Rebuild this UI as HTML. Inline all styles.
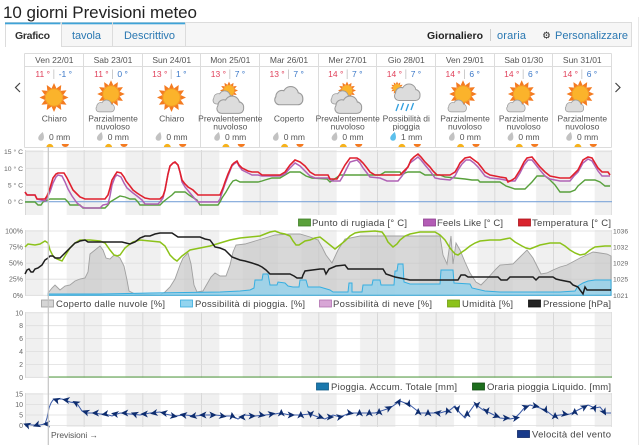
<!DOCTYPE html>
<html><head><meta charset="utf-8">
<style>
html,body{margin:0;padding:0;background:#fff;overflow:hidden;}
svg{display:block;}
</style></head>
<body>
<svg width="640" height="445" viewBox="0 0 640 445" xmlns="http://www.w3.org/2000/svg" font-family="'Liberation Sans', sans-serif">
<defs>
<pattern id="st" patternUnits="userSpaceOnUse" x="25" y="0" width="58.667" height="445">
<rect width="58.667" height="445" fill="#fff"/>
<rect x="0" width="18.3" height="445" fill="#f0f0f0"/>
<rect x="41.7" width="17" height="445" fill="#f0f0f0"/>
<rect x="0" width="0.9" height="445" fill="#d6d6d6"/>
</pattern>
<g id="sun">
<g fill="#f47b20">
<polygon points="-2.6,-8.8 2.6,-8.8 0,-14.5"/>
<polygon points="-2.6,-8.8 2.6,-8.8 0,-14.5" transform="rotate(30)"/>
<polygon points="-2.6,-8.8 2.6,-8.8 0,-14.5" transform="rotate(60)"/>
<polygon points="-2.6,-8.8 2.6,-8.8 0,-14.5" transform="rotate(90)"/>
<polygon points="-2.6,-8.8 2.6,-8.8 0,-14.5" transform="rotate(120)"/>
<polygon points="-2.6,-8.8 2.6,-8.8 0,-14.5" transform="rotate(150)"/>
<polygon points="-2.6,-8.8 2.6,-8.8 0,-14.5" transform="rotate(180)"/>
<polygon points="-2.6,-8.8 2.6,-8.8 0,-14.5" transform="rotate(210)"/>
<polygon points="-2.6,-8.8 2.6,-8.8 0,-14.5" transform="rotate(240)"/>
<polygon points="-2.6,-8.8 2.6,-8.8 0,-14.5" transform="rotate(270)"/>
<polygon points="-2.6,-8.8 2.6,-8.8 0,-14.5" transform="rotate(300)"/>
<polygon points="-2.6,-8.8 2.6,-8.8 0,-14.5" transform="rotate(330)"/>
</g>
<circle r="8.6" fill="#fbb32b" stroke="#f39a1e" stroke-width="0.8"/>
</g>
<g id="cl">
<g fill="#9a9a9a" stroke="#9a9a9a" stroke-width="2">
<circle cx="-6" cy="0" r="5"/><circle cx="2" cy="-2" r="6.5"/><circle cx="8" cy="1.5" r="4.5"/><rect x="-12" y="-1" width="24.5" height="8" rx="4"/>
</g>
<g fill="#dcdcdc">
<circle cx="-6" cy="0" r="5"/><circle cx="2" cy="-2" r="6.5"/><circle cx="8" cy="1.5" r="4.5"/><rect x="-12" y="-1" width="24.5" height="8" rx="4"/>
</g>
</g>
<path id="dr" d="M1.5,-4.5 C-1,-2.5 -3.5,0 -3,2.2 C-2.6,4 -0.5,4.6 1,4 C3,3 3.2,0 1.5,-4.5Z"/>
<g id="tiny">
<path d="M-11.6,147.5 a3.6,3.6 0 0 1 7.2,0z" fill="#f6b21c" transform="translate(3.6,0)"/>
<path d="M7.4,144 h7.2 a3.6,3 0 0 1 -7.2,0z" fill="#f47a20"/>
</g>
<path id="ar" d="M4,0 L-3.5,-3.5 L-1.5,0 L-3.5,3.5 Z" fill="#0d2c6e"/>
</defs>

<!-- title -->
<text x="3" y="18" font-size="17" fill="#222" textLength="194">10 giorni Previsioni meteo</text>

<!-- tab bar -->
<rect x="5" y="23" width="627" height="23" fill="#f6f6f6"/>
<rect x="5" y="23" width="56" height="24" fill="#fff"/>
<line x1="5" y1="22.5" x2="632" y2="22.5" stroke="#dcdcdc"/>
<line x1="61" y1="46.5" x2="632" y2="46.5" stroke="#dcdcdc"/>
<line x1="5.5" y1="23" x2="5.5" y2="47" stroke="#dcdcdc"/>
<line x1="61.5" y1="23" x2="61.5" y2="46" stroke="#dcdcdc"/>
<line x1="112.5" y1="23" x2="112.5" y2="46" stroke="#dcdcdc"/>
<line x1="185.5" y1="23" x2="185.5" y2="46" stroke="#dcdcdc"/>
<line x1="631.5" y1="23" x2="631.5" y2="46" stroke="#dcdcdc"/>
<rect x="5" y="22.5" width="55.5" height="1.8" fill="#3ea3d8"/>
<rect x="62" y="22.5" width="50" height="1.8" fill="#3ea3d8"/>
<rect x="113" y="22.5" width="72" height="1.8" fill="#3ea3d8"/>
<text x="15" y="39" font-size="10.5" font-weight="bold" fill="#333" textLength="35">Grafico</text>
<text x="72" y="39" font-size="11" fill="#2a78b2" textLength="29">tavola</text>
<text x="124" y="39" font-size="11" fill="#2a78b2" textLength="51">Descrittivo</text>
<text x="427" y="39" font-size="10.5" font-weight="bold" fill="#222" textLength="56">Giornaliero</text>
<line x1="490.5" y1="29" x2="490.5" y2="41" stroke="#ccc"/>
<text x="497" y="39" font-size="11" fill="#2a78b2" textLength="29">oraria</text>
<text x="546.5" y="38.5" font-size="9.5" fill="#222" text-anchor="middle">⚙</text>
<text x="555" y="39" font-size="11" fill="#2a78b2" textLength="73">Personalizzare</text>
<line x1="638.5" y1="17" x2="638.5" y2="445" stroke="#e8e8e8"/>

<!-- day grid box -->
<g stroke="#dcdcdc" stroke-width="1" fill="none">
<line x1="24.5" y1="53.5" x2="611.5" y2="53.5"/>
<line x1="24.5" y1="66.5" x2="611.5" y2="66.5"/>
<line x1="24.5" y1="53.5" x2="24.5" y2="147.5"/>
<line x1="83.5" y1="53.5" x2="83.5" y2="147.5"/>
<line x1="142.5" y1="53.5" x2="142.5" y2="147.5"/>
<line x1="200.5" y1="53.5" x2="200.5" y2="147.5"/>
<line x1="259.5" y1="53.5" x2="259.5" y2="147.5"/>
<line x1="318.5" y1="53.5" x2="318.5" y2="147.5"/>
<line x1="376.5" y1="53.5" x2="376.5" y2="147.5"/>
<line x1="435.5" y1="53.5" x2="435.5" y2="147.5"/>
<line x1="494.5" y1="53.5" x2="494.5" y2="147.5"/>
<line x1="552.5" y1="53.5" x2="552.5" y2="147.5"/>
<line x1="611.5" y1="53.5" x2="611.5" y2="147.5"/>
</g>
<path d="M20,83 L15.5,87.5 L20,92" stroke="#444" stroke-width="1.2" fill="none"/>
<path d="M615.5,83 L620,87.5 L615.5,92" stroke="#444" stroke-width="1.2" fill="none"/>

<g font-size="8.5" fill="#555" text-anchor="middle">
<text x="54.3" y="63">Ven 22/01</text>
<text x="113" y="63">Sab 23/01</text>
<text x="171.7" y="63">Sun 24/01</text>
<text x="230.3" y="63">Mon 25/01</text>
<text x="289" y="63">Mar 26/01</text>
<text x="347.7" y="63">Mer 27/01</text>
<text x="406.3" y="63">Gio 28/01</text>
<text x="465" y="63">Ven 29/01</text>
<text x="523.7" y="63">Sab 01/30</text>
<text x="582.3" y="63">Sun 31/01</text>
</g>

<!-- temps -->
<g font-size="8.5">
<g fill="#e0405a" text-anchor="end">
<text x="50" y="77">11 °</text>
<text x="108.7" y="77">11 °</text>
<text x="167.4" y="77">13 °</text>
<text x="226" y="77">13 °</text>
<text x="284.7" y="77">13 °</text>
<text x="343.4" y="77">14 °</text>
<text x="402" y="77">14 °</text>
<text x="460.7" y="77">14 °</text>
<text x="519.4" y="77">14 °</text>
<text x="578" y="77">14 °</text>
</g>
<g fill="#3b78c8">
<text x="58.7" y="77">-1 °</text>
<text x="117.4" y="77">0 °</text>
<text x="176" y="77">1 °</text>
<text x="234.7" y="77">7 °</text>
<text x="293.4" y="77">7 °</text>
<text x="352" y="77">7 °</text>
<text x="410.7" y="77">7 °</text>
<text x="469.4" y="77">6 °</text>
<text x="528" y="77">6 °</text>
<text x="586.7" y="77">6 °</text>
</g>
</g>
<g stroke="#ccc">
<line x1="53.8" y1="69.5" x2="53.8" y2="79"/>
<line x1="112.5" y1="69.5" x2="112.5" y2="79"/>
<line x1="171.2" y1="69.5" x2="171.2" y2="79"/>
<line x1="229.8" y1="69.5" x2="229.8" y2="79"/>
<line x1="288.5" y1="69.5" x2="288.5" y2="79"/>
<line x1="347.2" y1="69.5" x2="347.2" y2="79"/>
<line x1="405.8" y1="69.5" x2="405.8" y2="79"/>
<line x1="464.5" y1="69.5" x2="464.5" y2="79"/>
<line x1="523.2" y1="69.5" x2="523.2" y2="79"/>
<line x1="581.8" y1="69.5" x2="581.8" y2="79"/>
</g>

<!-- icons -->
<use href="#sun" transform="translate(54,97.5)"/>
<use href="#sun" transform="translate(111,94) scale(0.95)"/>
<use href="#cl" transform="translate(105,106.5) scale(0.72)"/>
<use href="#sun" transform="translate(171.5,97.5)"/>
<use href="#sun" transform="translate(229,90.5) scale(0.62)"/>
<use href="#cl" transform="translate(223,98) scale(0.8)"/>
<use href="#cl" transform="translate(230,105.5) scale(1.05)"/>
<use href="#cl" transform="translate(288.5,96.5) scale(1.1)"/>
<use href="#sun" transform="translate(347,90.5) scale(0.62)"/>
<use href="#cl" transform="translate(341,98) scale(0.8)"/>
<use href="#cl" transform="translate(348,105.5) scale(1.05)"/>
<use href="#sun" transform="translate(397,88) scale(0.45)"/>
<use href="#cl" transform="translate(407,93) scale(1.0)"/>
<g stroke="#2f9ede" stroke-width="1.3">
<line x1="396" y1="111" x2="398.5" y2="104"/>
<line x1="401" y1="110" x2="403.5" y2="103"/>
<line x1="406" y1="111" x2="408.5" y2="104"/>
<line x1="411" y1="110" x2="413.5" y2="103"/>
</g>
<use href="#sun" transform="translate(463,94) scale(0.95)"/>
<use href="#cl" transform="translate(457,106.5) scale(0.72)"/>
<use href="#sun" transform="translate(521.7,94) scale(0.95)"/>
<use href="#cl" transform="translate(515.7,106.5) scale(0.72)"/>
<use href="#sun" transform="translate(580.3,94) scale(0.95)"/>
<use href="#cl" transform="translate(574.3,106.5) scale(0.72)"/>

<!-- conditions -->
<g font-size="8.5" fill="#555" text-anchor="middle">
<text x="54.3" y="121.3">Chiaro</text>
<text x="113" y="121.3">Parzialmente</text><text x="113" y="129.7">nuvoloso</text>
<text x="171.7" y="121.3">Chiaro</text>
<text x="230.3" y="121.3">Prevalentemente</text><text x="230.3" y="129.7">nuvoloso</text>
<text x="289" y="121.3">Coperto</text>
<text x="347.7" y="121.3">Prevalentemente</text><text x="347.7" y="129.7">nuvoloso</text>
<text x="406.3" y="121.3">Possibilità di</text><text x="406.3" y="129.7">pioggia</text>
<text x="465" y="121.3">Parzialmente</text><text x="465" y="129.7">nuvoloso</text>
<text x="523.7" y="121.3">Parzialmente</text><text x="523.7" y="129.7">nuvoloso</text>
<text x="582.3" y="121.3">Parzialmente</text><text x="582.3" y="129.7">nuvoloso</text>
</g>
<!-- mm -->
<g fill="#c2c2c2">
<use href="#dr" transform="translate(41.3,136.5)"/>
<use href="#dr" transform="translate(100,136.5)"/>
<use href="#dr" transform="translate(158.7,136.5)"/>
<use href="#dr" transform="translate(217.3,136.5)"/>
<use href="#dr" transform="translate(276,136.5)"/>
<use href="#dr" transform="translate(334.7,136.5)"/>
<use href="#dr" transform="translate(452,136.5)"/>
<use href="#dr" transform="translate(510.7,136.5)"/>
<use href="#dr" transform="translate(569.3,136.5)"/>
</g>
<use href="#dr" transform="translate(393.3,136.5)" fill="#5cc0ec"/>
<g font-size="8.5" fill="#555">
<text x="49" y="140">0 mm</text>
<text x="107.7" y="140">0 mm</text>
<text x="166.4" y="140">0 mm</text>
<text x="225" y="140">0 mm</text>
<text x="283.7" y="140">0 mm</text>
<text x="342.4" y="140">0 mm</text>
<text x="401" y="140">1 mm</text>
<text x="459.7" y="140">0 mm</text>
<text x="518.4" y="140">0 mm</text>
<text x="577" y="140">0 mm</text>
</g>
<use href="#tiny" transform="translate(54.3,0)"/>
<use href="#tiny" transform="translate(113,0)"/>
<use href="#tiny" transform="translate(171.7,0)"/>
<use href="#tiny" transform="translate(230.3,0)"/>
<use href="#tiny" transform="translate(289,0)"/>
<use href="#tiny" transform="translate(347.7,0)"/>
<use href="#tiny" transform="translate(406.3,0)"/>
<use href="#tiny" transform="translate(465,0)"/>
<use href="#tiny" transform="translate(523.7,0)"/>
<use href="#tiny" transform="translate(582.3,0)"/>
<line x1="24.5" y1="147.5" x2="611.5" y2="147.5" stroke="#dcdcdc"/>

<!-- ===== Temperature chart ===== -->
<rect x="25" y="150" width="587" height="65" fill="url(#st)"/>
<g stroke="#dedede" stroke-width="0.8">
<line x1="25" y1="151.7" x2="612" y2="151.7"/>
<line x1="25" y1="168.3" x2="612" y2="168.3"/>
<line x1="25" y1="185" x2="612" y2="185"/>
<line x1="611.5" y1="150" x2="611.5" y2="215"/>
</g>
<line x1="25" y1="201.7" x2="612" y2="201.7" stroke="#7ea6da" stroke-width="1.1"/>
<g font-size="6.8" fill="#666" text-anchor="end">
<text x="23" y="154.2">15 ° C</text>
<text x="23" y="170.8">10 ° C</text>
<text x="23" y="187.5">5 ° C</text>
<text x="23" y="204.2">0 ° C</text>
</g>
<polyline fill="none" stroke="#58a03c" stroke-width="1.4" points="25,202 35,202 38,205 41,205 43,202 50,199 65,199 68,202 70,205 80,205 83,208 105,208 108,205 110,202 115,199 120,196 125,197 130,199 135,199 138,202 140,205 160,205 163,202 168,198 172,195 175,192 185,192 189,195 192,197 197,200 200,205 218,205 220,202 222,198 226,192 230,185 233,181 236,180 240,182 258,182 262,181 265,180 272,178 280,178 285,175 290,172 300,172 303,174 306,176 312,178 327,179 330,182 333,180 336,178 340,175 380,175 385,172 400,172 402,175 405,173 408,172 420,172 425,175 440,175 445,177 465,179 472,180 478,180 480,182 500,182 503,184 506,186 515,189 525,189 528,186 532,182 537,176 545,176 550,180 555,185 560,192 570,192 575,190 578,186 585,180 595,180 600,182 605,186 610,186"/>
<polyline fill="none" stroke="#b062b5" stroke-width="1.5" points="25,192 27,195 35,195 37,199 45,201 47,198 50,192 53,183 56,177 58,175 62,176 65,182 68,189 72,196 77,203 82,207 85,208 100,208 103,205 108,204 110,196 112,185 115,177 117,175 121,177 124,183 127,188 133,193 137,196 142,200 145,204 158,204 160,202 163,198 165,190 168,174 170,166 173,163 175,162 178,165 180,172 182,182 185,187 190,193 195,199 198,202 218,202 220,199 223,190 225,184 228,176 232,166 234,164 237,162 239,166 242,170 248,173 252,175 258,175 262,176 280,176 285,174 290,168 295,163 300,166 305,171 310,176 315,178 320,178 328,178 332,181 340,181 343,176 347,168 350,162 357,160 360,163 363,168 367,173 370,177 380,178 387,181 398,181 402,176 406,170 410,163 414,160 418,157 421,160 425,165 430,171 435,178 440,179 450,180 455,176 458,170 462,164 466,160 470,160 474,163 478,167 482,172 485,176 490,178 500,179 505,180 510,181 515,181 520,173 524,165 528,160 532,160 536,165 540,170 545,176 550,179 560,181 570,181 574,176 578,172 583,163 588,159 592,161 595,166 598,171 602,176 610,176"/>
<polyline fill="none" stroke="#e0202e" stroke-width="1.6" points="25,192 27,195 35,195 37,199 45,199 47,196 50,188 53,178 56,174 58,173 64,173 67,178 70,184 73,190 77,194 80,197 85,199 105,199 108,195 110,188 112,180 115,175 117,172 121,173 124,177 126,181 130,186 133,190 137,193 140,195 145,198 150,199 160,199 163,196 165,190 168,174 170,166 173,163 175,162 178,165 180,172 182,180 185,184 188,187 193,190 198,195 220,195 223,188 225,182 228,174 232,165 234,163 237,161 239,165 242,168 248,171 252,172 258,172 262,175 280,175 285,172 290,165 295,160 300,162 305,166 310,172 315,175 320,175 328,175 330,179 337,179 340,174 345,165 350,158 357,158 360,160 363,163 367,168 370,172 375,175 400,175 405,170 408,167 411,160 414,157 418,154 421,157 425,162 430,167 433,171 437,175 450,175 455,172 458,167 460,163 465,158 470,157 474,160 478,163 482,168 485,172 490,175 500,177 506,178 508,182 512,180 515,178 520,170 524,162 527,158 532,157 536,162 540,167 545,172 550,176 560,178 570,178 574,174 578,170 583,160 588,157 592,158 595,163 598,168 602,172 608,172 610,175"/>
<!-- temp legend -->
<g font-size="9.5" fill="#444">
<rect x="298.5" y="219" width="12" height="7" fill="#5aa03a" stroke="#3f7f28" stroke-width="0.8"/>
<text x="312" y="226" textLength="95">Punto di rugiada [° C]</text>
<rect x="423.5" y="219" width="12" height="7" fill="#b35cb5" stroke="#8e3f90" stroke-width="0.8"/>
<text x="437" y="226" textLength="66">Feels Like [° C]</text>
<rect x="518.5" y="219" width="12" height="7" fill="#d9232d" stroke="#a8151d" stroke-width="0.8"/>
<text x="532" y="226" textLength="79">Temperatura [° C]</text>
</g>

<!-- ===== Humidity chart ===== -->
<rect x="25" y="230" width="587" height="66" fill="url(#st)"/>
<g stroke="#dedede" stroke-width="0.8">
<line x1="25" y1="231" x2="612" y2="231"/>
<line x1="25" y1="247.1" x2="612" y2="247.1"/>
<line x1="25" y1="263.2" x2="612" y2="263.2"/>
<line x1="25" y1="279.2" x2="612" y2="279.2"/>
<line x1="25" y1="295.3" x2="612" y2="295.3"/>
<line x1="611.5" y1="230" x2="611.5" y2="296"/>
</g>
<g font-size="7" fill="#666" text-anchor="end">
<text x="23" y="233.5">100%</text>
<text x="23" y="249.6">75%</text>
<text x="23" y="265.7">50%</text>
<text x="23" y="281.7">25%</text>
<text x="23" y="297.8">0%</text>
</g>
<g font-size="6.8" fill="#666">
<text x="613" y="233.5">1036</text>
<text x="613" y="249.6">1032</text>
<text x="613" y="265.7">1029</text>
<text x="613" y="281.7">1025</text>
<text x="613" y="297.8">1021</text>
</g>
<polygon fill="#c8c8c8" fill-opacity="0.7" stroke="#a0a0a0" stroke-width="0.9" points="48,293 52,288 55,285 58,288 60,290 65,286 70,285 75,281 80,279 85,278 88,272 90,254 95,250 100,246 103,250 106,258 110,259 113,256 116,255 120,258 124,266 127,280 129,291 135,294 160,295 165,292 170,287 175,279 180,265 183,258 188,253 191,264 194,285 197,292 203,291 207,284 211,277 215,273 220,276 226,276 230,265 233,252 236,245 245,244 255,241 265,238 275,235 290,234 300,234 310,237 318,240 322,247 326,255 332,263 338,250 345,239 360,236 440,236 443,255 447,264 451,236 453,264 456,243 460,250 465,262 470,273 476,282 481,285 487,279 495,270 500,265 513,264 520,257 527,250 533,258 538,268 541,274 547,273 553,270 560,267 567,265 580,258 593,252 600,253 607,254 611,256 611,295.3 48,295.3"/>
<polygon fill="#8fd2ee" fill-opacity="0.75" stroke="#36aee0" stroke-width="1" points="48,294 100,294 150,293 220,292 240,291 250,290 254,288 255,280 262,280 263,274 268,274 270,285 277,285 278,282 285,283 288,286 293,287 299,287 300,280 306,280 308,287 320,287 330,290 333,292 348,292 349,283 352,283 352,292 362,292 363,285 372,285 373,280 380,280 381,285 394,285 395,271 397,271 398,264 403,264 404,282 410,284 440,284 441,270 453,270 454,283 470,284 472,288 485,291 500,292 560,292 575,291 578,286 583,283 588,281 595,280 611,280 611,295.3 48,295.3"/>
<polyline fill="none" stroke="#8cc21a" stroke-width="1.5" points="25,247 28,244 35,245 40,244 45,241 48,243 50,250 53,256 57,259 62,261 65,256 70,248 75,243 80,240 90,240 100,241 105,243 110,250 114,255 117,256 120,255 125,248 130,244 133,242 140,240 150,241 160,242 165,246 170,255 174,259 177,261 182,256 190,250 200,248 210,246 220,243 230,240 240,238 260,236 265,234 270,232 275,231 280,233 285,234 290,236 293,241 296,245 299,245 305,241 310,240 315,238 320,237 325,241 330,245 335,249 340,245 345,241 350,236 355,233 360,232 375,231 382,232 385,236 388,242 393,247 397,244 400,240 405,236 410,234 420,232 435,232 440,235 445,240 450,248 455,254 458,255 462,252 465,250 470,246 475,243 480,241 490,240 500,240 510,238 515,242 522,246 526,248 530,249 535,247 540,245 550,243 560,243 565,246 570,250 575,253 580,255 585,254 590,250 595,247 605,246 611,246"/>
<polyline fill="none" stroke="#1e1e1e" stroke-width="1.5" points="25,274 27,270 29,269 31,272 33,272 35,269 38,268 42,265 45,260 48,258 50,256 53,256 55,258 60,258 63,255 65,253 68,250 70,248 73,245 75,243 78,242 80,241 85,240 88,242 122,242 126,243 130,244 135,242 140,238 145,236 150,236 155,234 160,233 172,233 175,235 178,237 200,237 205,239 210,240 213,244 215,247 220,248 225,250 228,253 232,257 240,260 245,261 252,263 258,265 262,267 266,270 270,274 290,274 294,276 297,278 302,278 303,275 305,271 320,269 324,269 326,274 329,269 336,266 345,265 348,269 383,269 386,274 395,277 410,280 458,280 461,275 465,275 468,277 498,277 501,280 507,280 510,277 533,277 536,280 539,277 553,277 556,279 560,280 570,282 573,285 578,287 580,290 583,294 585,287 587,290 611,290"/>
<!-- humidity legend -->
<g font-size="9.5" fill="#444">
<rect x="41.5" y="300" width="12" height="7" fill="#d6d6d6" stroke="#999" stroke-width="0.8"/>
<text x="56" y="307" textLength="109">Coperto dalle nuvole [%]</text>
<rect x="180.5" y="300" width="12" height="7" fill="#92d4ef" stroke="#34aadc" stroke-width="0.8"/>
<text x="195" y="307" textLength="110">Possibilità di pioggia. [%]</text>
<rect x="319.5" y="300" width="12" height="7" fill="#d8a6d6" stroke="#b070b0" stroke-width="0.8"/>
<text x="333" y="307" textLength="99">Possibilità di neve [%]</text>
<rect x="447.5" y="300" width="12" height="7" fill="#8cc21a" stroke="#6f9c10" stroke-width="0.8"/>
<text x="462" y="307" textLength="51">Umidità [%]</text>
<rect x="528.5" y="300" width="12" height="7" fill="#222" stroke="#111" stroke-width="0.8"/>
<text x="543" y="307" textLength="68">Pressione [hPa]</text>
</g>

<!-- ===== Precip chart ===== -->
<rect x="25" y="312" width="587" height="66" fill="url(#st)"/>
<g stroke="#dedede" stroke-width="0.8">
<line x1="25" y1="312.8" x2="612" y2="312.8"/>
<line x1="25" y1="325.7" x2="612" y2="325.7"/>
<line x1="25" y1="338.6" x2="612" y2="338.6"/>
<line x1="25" y1="351.5" x2="612" y2="351.5"/>
<line x1="25" y1="364.4" x2="612" y2="364.4"/>
<line x1="25" y1="377.3" x2="612" y2="377.3"/>
<line x1="611.5" y1="312" x2="611.5" y2="378"/>
</g>
<g font-size="7" fill="#666" text-anchor="end">
<text x="23" y="315.3">10</text>
<text x="23" y="328.2">8</text>
<text x="23" y="341.1">6</text>
<text x="23" y="354">4</text>
<text x="23" y="366.9">2</text>
<text x="23" y="379.8">0</text>
</g>
<line x1="48" y1="377" x2="612" y2="377" stroke="#4f9a3c" stroke-width="1"/>
<g font-size="9.5" fill="#444">
<rect x="316.5" y="383" width="12" height="7" fill="#1a78ad" stroke="#0f5a85" stroke-width="0.8"/>
<text x="331" y="390" textLength="126">Pioggia. Accum. Totale [mm]</text>
<rect x="472.5" y="383" width="12" height="7" fill="#1d6e1d" stroke="#124d12" stroke-width="0.8"/>
<text x="487" y="390" textLength="124">Oraria pioggia Liquido. [mm]</text>
</g>

<!-- ===== Wind chart ===== -->
<rect x="25" y="393" width="587" height="34" fill="url(#st)"/>
<g stroke="#dedede" stroke-width="0.8">
<line x1="25" y1="394" x2="612" y2="394"/>
<line x1="25" y1="404.5" x2="612" y2="404.5"/>
<line x1="25" y1="415" x2="612" y2="415"/>
<line x1="25" y1="425.5" x2="612" y2="425.5"/>
<line x1="611.5" y1="393" x2="611.5" y2="427"/>
</g>
<g font-size="7" fill="#666" text-anchor="end">
<text x="23" y="396.5">15</text>
<text x="23" y="407">10</text>
<text x="23" y="417.5">5</text>
<text x="23" y="428">0</text>
</g>
<polyline fill="none" stroke="#3a5aa8" stroke-width="1" points="25,424 32,425 40,425 45,424 47,418 49,408 51,403 53,400 57,399 62,399 65,400 70,402 75,403 78,405 80,408 82,411 85,413 95,413 100,414 105,414 112,416 120,413 130,414 140,415 150,413 160,412 165,414 175,416 185,415 195,416 205,415 215,415 225,416 232,416 238,419 245,415 255,416 265,415 275,414 280,413 290,415 300,415 310,414 318,417 325,419 333,415 340,417 350,413 365,413 375,413 390,408 400,401 410,405 420,413 440,413 450,410 455,406 460,413 465,418 475,404 483,410 490,413 500,418 510,419 515,418 520,413 525,407 530,405 540,408 548,412 553,416 560,415 570,414 580,409 588,405 595,408 600,407 605,413 611,413"/>
<g>
<use href="#ar" transform="translate(27,425) rotate(200)"/>
<use href="#ar" transform="translate(36.8,425) rotate(160)"/>
<use href="#ar" transform="translate(46.6,424) rotate(180)"/>
<use href="#ar" transform="translate(56.3,400) rotate(200)"/>
<use href="#ar" transform="translate(66.1,400) rotate(190)"/>
<use href="#ar" transform="translate(75.9,403) rotate(210)"/>
<use href="#ar" transform="translate(85.7,412) rotate(200)"/>
<use href="#ar" transform="translate(95.5,413) rotate(180)"/>
<use href="#ar" transform="translate(105.2,414) rotate(170)"/>
<use href="#ar" transform="translate(115,414) rotate(190)"/>
<use href="#ar" transform="translate(124.8,413) rotate(180)"/>
<use href="#ar" transform="translate(134.6,414) rotate(200)"/>
<use href="#ar" transform="translate(144.4,414) rotate(180)"/>
<use href="#ar" transform="translate(154.1,413) rotate(170)"/>
<use href="#ar" transform="translate(163.9,413) rotate(190)"/>
<use href="#ar" transform="translate(173.7,416) rotate(10)"/>
<use href="#ar" transform="translate(183.5,415) rotate(190)"/>
<use href="#ar" transform="translate(193.3,416) rotate(170)"/>
<use href="#ar" transform="translate(203,415) rotate(180)"/>
<use href="#ar" transform="translate(212.8,415) rotate(0)"/>
<use href="#ar" transform="translate(222.6,416) rotate(10)"/>
<use href="#ar" transform="translate(232.4,416) rotate(260)"/>
<use href="#ar" transform="translate(242.2,417) rotate(180)"/>
<use href="#ar" transform="translate(252,416) rotate(0)"/>
<use href="#ar" transform="translate(261.7,415) rotate(10)"/>
<use href="#ar" transform="translate(271.5,414) rotate(350)"/>
<use href="#ar" transform="translate(281.3,413) rotate(270)"/>
<use href="#ar" transform="translate(291.1,415) rotate(0)"/>
<use href="#ar" transform="translate(300.8,415) rotate(270)"/>
<use href="#ar" transform="translate(310.6,414) rotate(90)"/>
<use href="#ar" transform="translate(320.4,417) rotate(20)"/>
<use href="#ar" transform="translate(330.2,417) rotate(0)"/>
<use href="#ar" transform="translate(340,417) rotate(350)"/>
<use href="#ar" transform="translate(349.8,413) rotate(10)"/>
<use href="#ar" transform="translate(359.5,413) rotate(270)"/>
<use href="#ar" transform="translate(369.3,413) rotate(270)"/>
<use href="#ar" transform="translate(379.1,412) rotate(270)"/>
<use href="#ar" transform="translate(388.9,408) rotate(330)"/>
<use href="#ar" transform="translate(398.7,402) rotate(300)"/>
<use href="#ar" transform="translate(408.4,404) rotate(60)"/>
<use href="#ar" transform="translate(418.2,412) rotate(270)"/>
<use href="#ar" transform="translate(428,413) rotate(270)"/>
<use href="#ar" transform="translate(437.8,413) rotate(190)"/>
<use href="#ar" transform="translate(447.6,411) rotate(250)"/>
<use href="#ar" transform="translate(457.3,409) rotate(80)"/>
<use href="#ar" transform="translate(467.1,414) rotate(270)"/>
<use href="#ar" transform="translate(476.9,405) rotate(90)"/>
<use href="#ar" transform="translate(486.7,411) rotate(80)"/>
<use href="#ar" transform="translate(496.5,416) rotate(20)"/>
<use href="#ar" transform="translate(506.2,418) rotate(0)"/>
<use href="#ar" transform="translate(516,418) rotate(350)"/>
<use href="#ar" transform="translate(525.8,407) rotate(340)"/>
<use href="#ar" transform="translate(535.6,406) rotate(10)"/>
<use href="#ar" transform="translate(545.4,410) rotate(60)"/>
<use href="#ar" transform="translate(555.1,416) rotate(270)"/>
<use href="#ar" transform="translate(564.9,414) rotate(10)"/>
<use href="#ar" transform="translate(574.7,412) rotate(270)"/>
<use href="#ar" transform="translate(584.5,407) rotate(330)"/>
<use href="#ar" transform="translate(594.3,408) rotate(300)"/>
<use href="#ar" transform="translate(604.1,412) rotate(60)"/>
</g>
<text x="51" y="438" font-size="8.5" fill="#555" textLength="47">Previsioni →</text>
<g font-size="9.5" fill="#444">
<rect x="517.5" y="430.5" width="12" height="7" fill="#183a8a" stroke="#0f2866" stroke-width="0.8"/>
<text x="532" y="437.5" textLength="79">Velocità del vento</text>
</g>

<!-- now line -->
<line x1="48.3" y1="147" x2="48.3" y2="445" stroke="#c4c4c4" stroke-width="1.2"/>
</svg>
</body></html>
